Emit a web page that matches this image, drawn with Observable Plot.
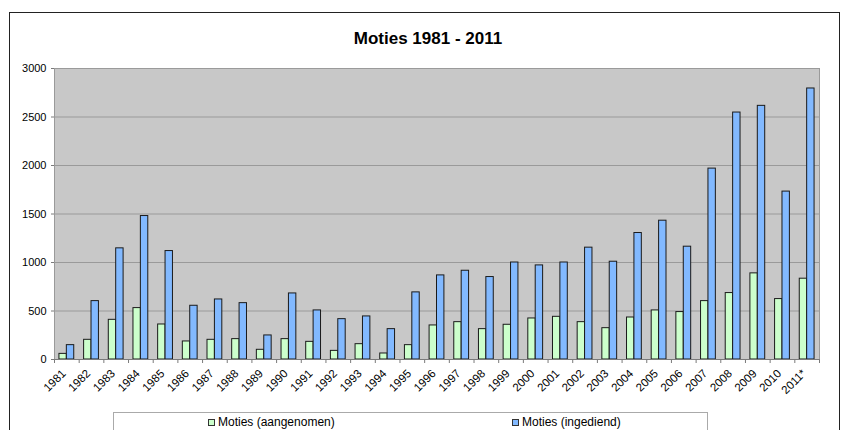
<!DOCTYPE html>
<html>
<head>
<meta charset="utf-8">
<script src="https://cdn.jsdelivr.net/npm/d3@7"></script>
<script src="https://cdn.jsdelivr.net/npm/@observablehq/plot@0.6"></script>
<style>
  body { margin: 0; background: #fff; }
  #wrap { position: relative; width: 843px; height: 430px; overflow: hidden; font-family: "Liberation Sans", Arial, sans-serif; }
  #frame { position: absolute; left: 9px; top: 12px; width: 831px; height: 460px; border: 1px solid #222; box-sizing: border-box; }
  #chart { position: absolute; left: 0; top: 0; }
  #title { position: absolute; left: 0; top: 30px; width: 856px; text-align: center; font-weight: bold; font-size: 17px; line-height: 17px; color: #000; }
  #legend { position: absolute; left: 113px; top: 412px; width: 595px; height: 40px; border: 1px solid #aaa; box-sizing: border-box; background: #fff; }
  .item { position: absolute; top: 2px; font-size: 12px; line-height: 14px; color: #000; white-space: nowrap; }
  .sw { display: inline-block; width: 5px; height: 5px; border: 1px solid #333; margin-right: 3px; vertical-align: 0px; }
</style>
</head>
<body>
<div id="wrap">
  <div id="frame"></div>
  <div id="chart"></div>
  <div id="title">Moties 1981 - 2011</div>
  <div id="legend"></div>
</div>
<script>
const years = ["1981","1982","1983","1984","1985","1986","1987","1988","1989","1990","1991","1992","1993","1994","1995","1996","1997","1998","1999","2000","2001","2002","2003","2004","2005","2006","2007","2008","2009","2010","2011*"];
const aangenomen = [58,203,409,530,361,186,203,210,100,210,182,89,158,62,148,351,385,313,358,423,440,385,323,433,506,489,602,685,888,623,833];
const ingediend = [148,602,1146,1479,1118,554,619,581,248,681,506,416,444,313,692,867,915,850,1000,970,1000,1153,1008,1304,1431,1163,1968,2546,2615,1731,2794];
const yTicks = [0,500,1000,1500,2000,2500,3000];
const seriesNames = ["Moties (aangenomen)", "Moties (ingediend)"];
const colors = ["#ccffcc", "#82b9ff"];

const data = years.map((y, i) => ({i, year: y, a: aangenomen[i], b: ingediend[i]}));
const boundaries = d3.range(0, years.length + 1);

const chart = Plot.plot({
  width: 843,
  height: 405,
  marginTop: 68,
  marginRight: 24,
  marginBottom: 46,
  marginLeft: 54,
  style: {fontFamily: "'Liberation Sans', Arial, sans-serif", fontSize: "11px", background: "transparent", color: "#000"},
  x: {domain: [0, years.length], axis: null},
  y: {domain: [0, 3000], axis: null},
  marks: [
    Plot.frame({fill: "#c8c8c8", stroke: "#9a9a9a"}),
    Plot.gridY(yTicks.slice(1), {stroke: "#9a9a9a", strokeOpacity: 1, strokeWidth: 1}),
    Plot.rectY(data, {x1: d => d.i + 0.2, x2: d => d.i + 0.5, y: "a", fill: colors[0], stroke: "#1a1a1a", strokeWidth: 1}),
    Plot.rectY(data, {x1: d => d.i + 0.5, x2: d => d.i + 0.8, y: "b", fill: colors[1], stroke: "#1a1a1a", strokeWidth: 1}),
    Plot.ruleY([0], {stroke: "#7a7a7a"}),
    Plot.axisY(yTicks, {tickSize: 3, tickPadding: 5, stroke: "#7a7a7a", fontSize: 11, tickFormat: d => String(d)}),
    Plot.axisX(boundaries, {tickSize: 4, tickFormat: () => "", stroke: "#7a7a7a"}),
    Plot.text(data, {x: d => d.i + 0.5, y: () => 0, text: "year", rotate: -45, textAnchor: "end", lineAnchor: "middle", dx: -3, dy: 12, fontSize: 11.5, fill: "#000"})
  ]
});
document.getElementById("chart").appendChild(chart);

const legend = document.getElementById("legend");
const lefts = [94, 398];
seriesNames.forEach((name, k) => {
  const it = document.createElement("div");
  it.className = "item";
  it.style.left = lefts[k] + "px";
  const sw = document.createElement("span");
  sw.className = "sw";
  sw.style.background = colors[k];
  it.appendChild(sw);
  it.appendChild(document.createTextNode(name));
  legend.appendChild(it);
});
</script>
</body>
</html>
